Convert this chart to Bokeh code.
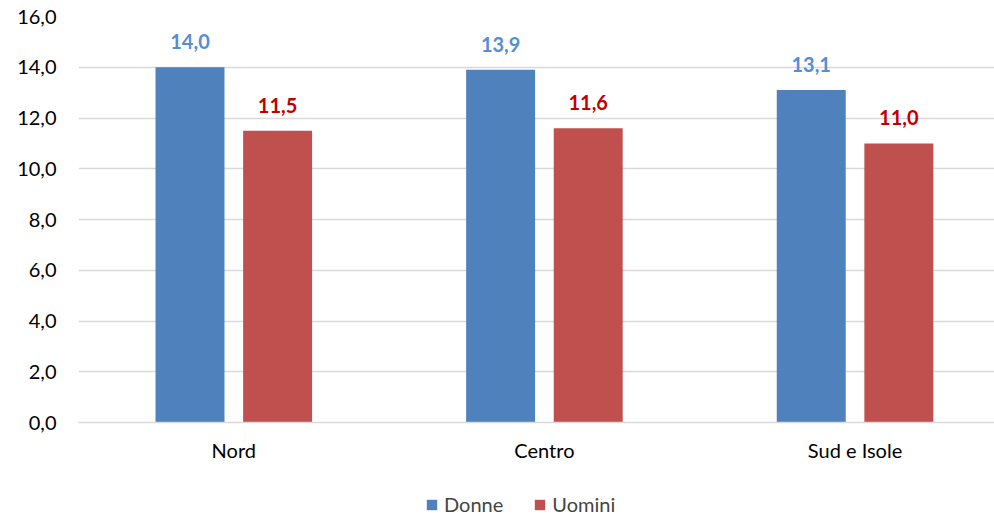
from bokeh.plotting import figure
from bokeh.models import ColumnDataSource, Range1d, FixedTicker, Legend, LegendItem, LabelSet
from bokeh.layouts import column
from bokeh.embed import file_html
from bokeh.resources import INLINE
from bokeh.core.properties import value

categories = ["Nord", "Centro", "Sud e Isole"]
donne = [14.0, 13.9, 13.1]
uomini = [11.5, 11.6, 11.0]
series_names = ["Donne", "Uomini"]
y_ticks = [0, 2, 4, 6, 8, 10, 12, 14, 16]

FONT = "Lato"
BLUE = "#4F81BD"
RED = "#C0504D"

xpos = [i + 0.5 for i in range(len(categories))]
off = 0.141
bw = 0.222

src_d = ColumnDataSource(dict(x=[v - off for v in xpos], y=donne,
                              lab=[f"{v:.1f}".replace(".", ",") for v in donne]))
src_u = ColumnDataSource(dict(x=[v + off for v in xpos], y=uomini,
                              lab=[f"{v:.1f}".replace(".", ",") for v in uomini]))

p = figure(width=994, height=488, output_backend="svg", toolbar_location=None,
           x_range=Range1d(0, 2.949), y_range=Range1d(0, 16),
           min_border_left=78, min_border_right=0, min_border_top=16, min_border_bottom=66)
p.outline_line_color = None
p.background_fill_color = "white"

r1 = p.vbar(x="x", top="y", width=bw, source=src_d, fill_color=BLUE, line_color=None)
r2 = p.vbar(x="x", top="y", width=bw, source=src_u, fill_color=RED, line_color=None)

p.add_layout(LabelSet(x="x", y="y", text="lab", source=src_d, text_align="center",
                      text_baseline="alphabetic", y_offset=18, text_font=value(FONT),
                      text_font_style="bold", text_font_size="20px", text_color="#558ED5"))
p.add_layout(LabelSet(x="x", y="y", text="lab", source=src_u, text_align="center",
                      text_baseline="alphabetic", y_offset=18, text_font=value(FONT),
                      text_font_style="bold", text_font_size="20px", text_color="#C00000"))

p.yaxis.ticker = FixedTicker(ticks=y_ticks)
p.yaxis.major_label_overrides = {t: f"{t:.1f}".replace(".", ",") for t in y_ticks}
p.yaxis.axis_line_color = None
p.yaxis.major_tick_line_color = None
p.yaxis.minor_tick_line_color = None
p.yaxis.major_tick_out = 0
p.yaxis.minor_tick_out = 0
p.yaxis.major_label_standoff = 22
p.yaxis.major_label_text_font = FONT
p.yaxis.major_label_text_font_size = "20px"
p.yaxis.major_label_text_color = "#000000"

p.xaxis.ticker = FixedTicker(ticks=xpos)
p.xaxis.major_label_overrides = {x: c for x, c in zip(xpos, categories)}
p.xaxis.axis_line_color = "#D9D9D9"
p.xaxis.axis_line_width = 1.5
p.xaxis.major_tick_line_color = None
p.xaxis.minor_tick_line_color = None
p.xaxis.major_tick_out = 0
p.xaxis.minor_tick_out = 0
p.xaxis.major_label_standoff = 15
p.xaxis.major_label_text_font = FONT
p.xaxis.major_label_text_font_size = "20px"
p.xaxis.major_label_text_color = "#000000"

p.xgrid.grid_line_color = None
p.ygrid.grid_line_color = "#D9D9D9"
p.ygrid.grid_line_width = 1.5

# legend strip below the chart (zero-height proxy renderers, only for legend swatches)
lg = figure(width=994, height=29, output_backend="svg", toolbar_location=None,
            x_range=Range1d(0, 1), y_range=Range1d(0, 1), min_border=0)
lg.axis.visible = False
lg.grid.grid_line_color = None
lg.outline_line_color = None
d1 = lg.vbar(x=[0.5], top=[0], bottom=[0], width=0.0, fill_color=BLUE, line_color=None)
d2 = lg.vbar(x=[0.5], top=[0], bottom=[0], width=0.0, fill_color=RED, line_color=None)
legend = Legend(items=[LegendItem(label=series_names[0], renderers=[d1]),
                       LegendItem(label=series_names[1], renderers=[d2])],
                orientation="horizontal", location=(347, 1),
                label_text_font=FONT, label_text_font_size="20px",
                glyph_width=13, glyph_height=13, label_standoff=6, spacing=30,
                border_line_color=None, background_fill_alpha=0, padding=0, margin=0)
lg.add_layout(legend, "center")

open("out.html", "w").write(file_html(column(p, lg, spacing=0), INLINE))
